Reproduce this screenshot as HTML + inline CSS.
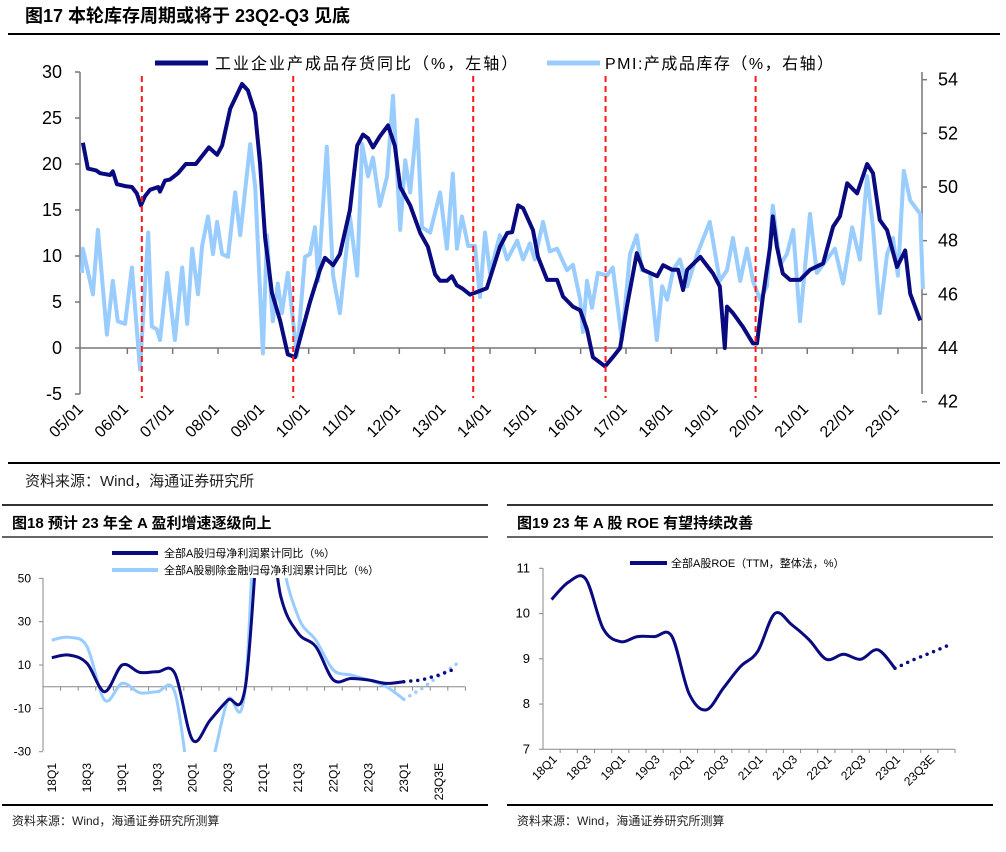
<!DOCTYPE html>
<html><head><meta charset="utf-8"><style>
body{margin:0;background:#fff;width:1006px;height:847px;overflow:hidden;font-family:"Liberation Sans","Noto Sans CJK SC",sans-serif}
svg text{font-family:"Liberation Sans","Noto Sans CJK SC",sans-serif}
</style></head><body>
<svg id="s" width="1006" height="847" viewBox="0 0 1006 847" xmlns="http://www.w3.org/2000/svg">
<defs>
<clipPath id="c1"><rect x="43" y="578" width="425" height="174"/></clipPath>
</defs>
<text x="25" y="22" font-size="18" font-weight="bold">图17 本轮库存周期或将于 23Q2-Q3 见底</text>
<line x1="8" y1="34" x2="1000" y2="34" stroke="#000" stroke-width="2"/>
<g id="top"></g>
<line x1="8" y1="463" x2="1000" y2="463" stroke="#000" stroke-width="2"/>
<text x="25" y="486" font-size="15" fill="#222">资料来源：Wind，海通证券研究所</text>

<line x1="2" y1="505" x2="488" y2="505" stroke="#333" stroke-width="2"/>
<text x="12" y="528" font-size="15" font-weight="bold">图18 预计 23 年全 A 盈利增速逐级向上</text>
<line x1="2" y1="537" x2="488" y2="537" stroke="#333" stroke-width="1.5"/>
<g id="bl"></g>
<line x1="2" y1="805" x2="488" y2="805" stroke="#000" stroke-width="2"/>
<text x="12" y="825" font-size="12" fill="#222">资料来源：Wind，海通证券研究所测算</text>

<line x1="507" y1="505" x2="993" y2="505" stroke="#333" stroke-width="2"/>
<text x="517" y="528" font-size="15" font-weight="bold">图19 23 年 A 股 ROE 有望持续改善</text>
<line x1="507" y1="537" x2="993" y2="537" stroke="#333" stroke-width="1.5"/>
<g id="br"></g>
<line x1="507" y1="805" x2="993" y2="805" stroke="#000" stroke-width="2"/>
<text x="517" y="825" font-size="12" fill="#222">资料来源：Wind，海通证券研究所测算</text>
</svg>
<script>
// ---------- Figure 17 data (t = years since 2005/01) ----------
const yearLabels=["05/01","06/01","07/01","08/01","09/01","10/01","11/01","12/01","13/01","14/01","15/01","16/01","17/01","18/01","19/01","20/01","21/01","22/01","23/01"];
const leftTicks=[30,25,20,15,10,5,0,-5];
const rightTicks=[54,52,50,48,46,44,42];
const cycleBottoms=[1.32,4.66,8.63,11.55,14.86];
const invT=[0.02,0.09,0.13,0.31,0.40,0.62,0.68,0.77,0.95,1.10,1.21,1.30,1.39,1.50,1.68,1.72,1.83,1.94,2.12,2.29,2.51,2.80,2.98,3.09,3.27,3.53,3.66,3.82,3.93,4.04,4.19,4.37,4.54,4.70,4.81,5.03,5.25,5.36,5.54,5.69,5.91,6.07,6.20,6.31,6.42,6.57,6.75,6.90,7.02,7.24,7.46,7.63,7.79,7.90,8.05,8.16,8.27,8.38,8.56,8.67,8.93,9.22,9.38,9.49,9.62,9.73,9.95,10.06,10.26,10.48,10.61,10.83,10.99,11.14,11.27,11.54,11.71,11.87,12.02,12.24,12.38,12.69,12.82,13.02,13.15,13.26,13.35,13.64,13.92,14.07,14.18,14.23,14.36,14.58,14.80,14.89,15.02,15.18,15.24,15.33,15.46,15.62,15.84,16.06,16.35,16.57,16.72,16.88,17.10,17.32,17.45,17.60,17.76,17.98,18.16,18.27,18.49];
const invVal=[22.3,20.5,19.5,19.3,19.0,18.8,19.2,17.8,17.6,17.5,16.8,15.5,16.5,17.2,17.5,17.0,18.2,18.3,19.0,20.0,20.0,21.8,21.0,22.0,26,28.7,28,25.5,20,12,6,3,-0.7,-1,1,5,8.5,9.8,9.0,10.2,15,22,23.2,22.8,21.8,23,24.2,22,17.5,15.5,12.5,11,8,7.3,7.3,7.8,6.8,6.5,5.8,6.0,6.5,11,12.5,12.6,15.5,15.2,12.8,9.9,7.4,7.4,5.6,4.5,4.1,2,-1,-2,-1,0,4.5,10.3,8.5,7.8,9,8.5,8.5,6.3,8.5,9.9,8.1,6.7,0,4.5,3.8,2.3,0.5,0.5,5.6,11,14.3,11,8.1,7.4,7.4,8.5,9.2,13.2,14.3,17.9,16.8,20,19,13.9,12.8,8.8,10.6,5.9,3];
const pmiT=[0.0,0.02,0.24,0.35,0.55,0.68,0.79,0.95,1.10,1.28,1.46,1.54,1.65,1.72,1.88,2.05,2.21,2.32,2.43,2.56,2.65,2.78,2.89,2.98,3.09,3.22,3.38,3.49,3.71,3.82,3.99,4.08,4.21,4.32,4.41,4.54,4.74,4.92,5.03,5.14,5.21,5.40,5.54,5.69,5.91,6.07,6.18,6.31,6.42,6.57,6.73,6.86,7.02,7.13,7.24,7.39,7.50,7.68,7.90,8.05,8.18,8.27,8.38,8.52,8.67,8.78,8.89,9.00,9.22,9.38,9.60,9.73,9.88,9.99,10.17,10.32,10.48,10.70,10.83,10.99,11.05,11.14,11.25,11.38,11.58,11.71,11.91,12.09,12.24,12.35,12.53,12.68,12.80,12.91,13.04,13.19,13.35,13.57,13.85,14.07,14.23,14.36,14.52,14.67,14.80,14.96,15.11,15.24,15.40,15.55,15.69,15.84,16.06,16.21,16.43,16.61,16.79,16.99,17.16,17.32,17.45,17.60,17.76,17.89,18.00,18.13,18.27,18.49,18.55];
const pmiVal=[46.8,47.7,46.0,48.4,44.5,46.5,45.0,44.9,47.0,43.2,48.3,44.8,44.7,44.3,46.8,44.3,47.0,44.9,47.7,46.0,47.8,48.9,47.5,48.7,47.5,47.4,49.8,48.2,51.6,50.0,43.8,48.2,45.0,46.4,45.3,46.8,43.7,47.4,47.5,48.5,46.5,51.5,46.7,45.3,48.9,46.7,51.6,50.4,51.1,49.3,50.4,53.4,48.4,51.0,49.8,52.5,48.5,48.3,49.8,47.7,50.5,47.7,48.9,47.8,47.8,45.9,48.3,46.8,48.2,47.3,48.0,47.3,47.9,47.3,48.7,47.6,47.7,46.9,47.1,45.8,44.6,46.5,45.5,46.8,46.7,47.0,44.3,47.5,48.2,46.9,46.8,44.3,46.3,45.8,46.9,47.3,46.3,47.5,48.7,46.5,46.9,48.1,46.5,47.7,46.5,45.8,46.3,49.3,47.1,47.5,48.4,45.0,49.0,46.8,47.3,47.7,46.4,48.5,47.3,50.4,48.5,45.3,47.5,48.1,46.7,50.6,49.5,49.0,46.2];

// ---------- Figure 18 data ----------
const qCats=["18Q1","18Q2","18Q3","18Q4","19Q1","19Q2","19Q3","19Q4","20Q1","20Q2","20Q3","20Q4","21Q1","21Q2","21Q3","21Q4","22Q1","22Q2","22Q3","22Q4","23Q1","23Q2E","23Q3E","23Q4E"];
const qLabelIdx=[0,2,4,6,8,10,12,14,16,18,20,22];
const qLabels=["18Q1","18Q3","19Q1","19Q3","20Q1","20Q3","21Q1","21Q3","22Q1","22Q3","23Q1","23Q3E"];
const profitTicks=[50,30,10,-10,-30];
const allA=[13.4,14.6,10.8,-2.3,10,6.6,6.9,6,-24.6,-15.4,-6.2,0,90,42,24.7,18.5,3.1,3.8,3.1,1.5,2.3];
const allAFcst=[2.3,3.1,5.4,8.5];
const exFin=[21.5,22.8,18.5,-6.2,1.5,-2.8,-2.3,-2.8,-50,-38,-6.2,0,150,65,32.3,21.5,7.7,5.4,3.1,0,-5.8];
const exFinFcst=[-5.8,-1,5,10.5];

// ---------- Figure 19 data ----------
const roeTicks=[11,10,9,8,7];
const roe=[10.31,10.7,10.76,9.67,9.38,9.49,9.49,9.5,8.24,7.87,8.35,8.83,9.16,10.0,9.75,9.42,8.99,9.1,8.99,9.2,8.79];
const roeFcst=[8.79,8.97,9.12,9.28];

const NS="http://www.w3.org/2000/svg";
function mk(p,tag,at){const e=document.createElementNS(NS,tag);for(const k in at)e.setAttribute(k,at[k]);p.appendChild(e);return e;}
function poly(pts){return pts.map((p,i)=>(i?"L":"M")+p[0].toFixed(1)+","+p[1].toFixed(1)).join("");}
function smooth(pts){let d="M"+pts[0][0]+","+pts[0][1];for(let i=0;i<pts.length-1;i++){const p0=pts[Math.max(0,i-1)],p1=pts[i],p2=pts[i+1],p3=pts[Math.min(pts.length-1,i+2)];const c1=[p1[0]+(p2[0]-p0[0])/6,p1[1]+(p2[1]-p0[1])/6],c2=[p2[0]-(p3[0]-p1[0])/6,p2[1]-(p3[1]-p1[1])/6];d+="C"+c1[0].toFixed(1)+","+c1[1].toFixed(1)+" "+c2[0].toFixed(1)+","+c2[1].toFixed(1)+" "+p2[0].toFixed(1)+","+p2[1].toFixed(1);}return d;}

// ===== Fig 17 =====
(function(){
const g=document.getElementById('top');
const X=t=>82+t*45.33, YL=v=>348-v*9.2, YR=v=>348-(v-44)*26.83;
const ax=mk(g,'line',{x1:80,y1:72,x2:80,y2:394,stroke:'#777','stroke-width':1.5});

leftTicks.forEach(v=>{
 const tk=mk(g,'line',{x1:75,y1:YL(v),x2:80,y2:YL(v),stroke:'#777','stroke-width':1.5});
 
 const t=mk(g,'text',{x:62,y:YL(v)+6,'font-size':18,'text-anchor':'end'});t.textContent=v;
 
});
const ar=mk(g,'line',{x1:922,y1:72,x2:922,y2:394,stroke:'#777','stroke-width':1.5});

rightTicks.forEach(v=>{
 const tk=mk(g,'line',{x1:922,y1:YR(v),x2:927,y2:YR(v),stroke:'#777','stroke-width':1.5});
 
 const t=mk(g,'text',{x:938,y:YR(v)+6,'font-size':18});t.textContent=v;
 
});
const xa=mk(g,'line',{x1:80,y1:348,x2:922,y2:348,stroke:'#777','stroke-width':1.5});

yearLabels.forEach((l,i)=>{
 const x=X(i);
 if(i>0){const tk=mk(g,'line',{x1:x,y1:348,x2:x,y2:354,stroke:'#777','stroke-width':1.5});
 }
 const t=mk(g,'text',{x:x+2,y:410,'font-size':16,'text-anchor':'end',transform:`rotate(-45 ${x+2} 410)`});t.textContent=l;
 
});
const pmi=mk(g,'path',{d:poly(pmiT.map((t,i)=>[X(t),YR(pmiVal[i])])),fill:'none',stroke:'#99ccff','stroke-width':4,'stroke-linejoin':'round'});

const inv=mk(g,'path',{d:poly(invT.map((t,i)=>[X(t),YL(invVal[i])])),fill:'none',stroke:'#0a0a80','stroke-width':4,'stroke-linejoin':'round'});

cycleBottoms.forEach(t=>{
 const l=mk(g,'line',{x1:X(t),y1:76,x2:X(t),y2:398,stroke:'#ff1a1a','stroke-width':2,'stroke-dasharray':'6,4'});
 
});
const l1=mk(g,'line',{x1:155,y1:63,x2:208,y2:63,stroke:'#0a0a80','stroke-width':5});

const t1=mk(g,'text',{x:215,y:69,'font-size':16,'letter-spacing':'2'});t1.textContent='工业企业产成品存货同比（%，左轴）';

const l2=mk(g,'line',{x1:547,y1:63,x2:600,y2:63,stroke:'#99ccff','stroke-width':5});

const t2=mk(g,'text',{x:605,y:69,'font-size':16,'letter-spacing':'1.5'});t2.textContent='PMI:产成品库存（%，右轴）';

})();

// ===== Fig 18 =====
(function(){
const g=document.getElementById('bl');
const bw=17.6, X=i=>43+(i+0.5)*bw, Y=v=>686.7-v*2.167;
const ax=mk(g,'line',{x1:43,y1:578,x2:43,y2:751,stroke:'#888','stroke-width':1});

profitTicks.forEach(v=>{
 const tk=mk(g,'line',{x1:39,y1:Y(v),x2:43,y2:Y(v),stroke:'#888'});
 
 const t=mk(g,'text',{x:31,y:Y(v)+4,'font-size':12,'text-anchor':'end'});t.textContent=v;
 
});
const xa=mk(g,'line',{x1:43,y1:Y(0),x2:465,y2:Y(0),stroke:'#888'});

for(let i=1;i<=qCats.length;i++){const tk=mk(g,'line',{x1:43+i*bw,y1:Y(0),x2:43+i*bw,y2:Y(0)+4,stroke:'#888'});
 }
qLabelIdx.forEach((ci,k)=>{
 const x=X(ci)+4,y=763;
 const t=mk(g,'text',{x:x,y:y,'font-size':12,'text-anchor':'end',transform:`rotate(-90 ${x} ${y})`});t.textContent=qLabels[k];
 
});
const cl=mk(g,'g',{'clip-path':'url(#c1)'});
const e=mk(cl,'path',{d:smooth(exFin.map((v,i)=>[X(i),Y(v)])),fill:'none',stroke:'#99ccff','stroke-width':3});

const ef=mk(cl,'path',{d:poly(exFinFcst.map((v,i)=>[X(i+20),Y(v)])),fill:'none',stroke:'#99ccff','stroke-width':3.5,'stroke-dasharray':'0,7','stroke-linecap':'round'});

const a=mk(cl,'path',{d:smooth(allA.map((v,i)=>[X(i),Y(v)])),fill:'none',stroke:'#0a0a80','stroke-width':3});

const af=mk(cl,'path',{d:poly(allAFcst.map((v,i)=>[X(i+20),Y(v)])),fill:'none',stroke:'#0a0a80','stroke-width':3.5,'stroke-dasharray':'0,7','stroke-linecap':'round'});

const s1=mk(g,'line',{x1:112,y1:553,x2:158,y2:553,stroke:'#0a0a80','stroke-width':4});

const t1=mk(g,'text',{x:164,y:557,'font-size':11});t1.textContent='全部A股归母净利润累计同比（%）';

const s2=mk(g,'line',{x1:112,y1:570,x2:158,y2:570,stroke:'#99ccff','stroke-width':4});

const t2=mk(g,'text',{x:164,y:574,'font-size':11});t2.textContent='全部A股剔除金融归母净利润累计同比（%）';

})();

// ===== Fig 19 =====
(function(){
const g=document.getElementById('br');
const bw=17.17, X=i=>543+(i+0.5)*bw, Y=v=>568.3+(11-v)*45.25;
const ax=mk(g,'line',{x1:543,y1:568,x2:543,y2:749.3,stroke:'#888'});

roeTicks.forEach(v=>{
 const tk=mk(g,'line',{x1:539,y1:Y(v),x2:543,y2:Y(v),stroke:'#888'});
 
 const t=mk(g,'text',{x:530,y:Y(v)+4,'font-size':13,'text-anchor':'end'});t.textContent=v;
 
});
const xa=mk(g,'line',{x1:543,y1:749.3,x2:955,y2:749.3,stroke:'#888'});

for(let i=1;i<=qCats.length;i++){const tk=mk(g,'line',{x1:543+i*bw,y1:749.3,x2:543+i*bw,y2:753,stroke:'#888'});
 }
qLabelIdx.forEach((ci,k)=>{
 const x=X(ci)+6,y=760;
 const t=mk(g,'text',{x:x,y:y,'font-size':12,'text-anchor':'end',transform:`rotate(-45 ${x} ${y})`});t.textContent=qLabels[k];
 
});
const r=mk(g,'path',{d:smooth(roe.map((v,i)=>[X(i),Y(v)])),fill:'none',stroke:'#0a0a80','stroke-width':3});

const rf=mk(g,'path',{d:poly(roeFcst.map((v,i)=>[X(i+20),Y(v)])),fill:'none',stroke:'#0a0a80','stroke-width':3.5,'stroke-dasharray':'0,7','stroke-linecap':'round'});

const s1=mk(g,'line',{x1:630,y1:563,x2:667,y2:563,stroke:'#0a0a80','stroke-width':4});

const t1=mk(g,'text',{x:671,y:567,'font-size':11});t1.textContent='全部A股ROE（TTM，整体法，%）';

})();
</script>
</body></html>
